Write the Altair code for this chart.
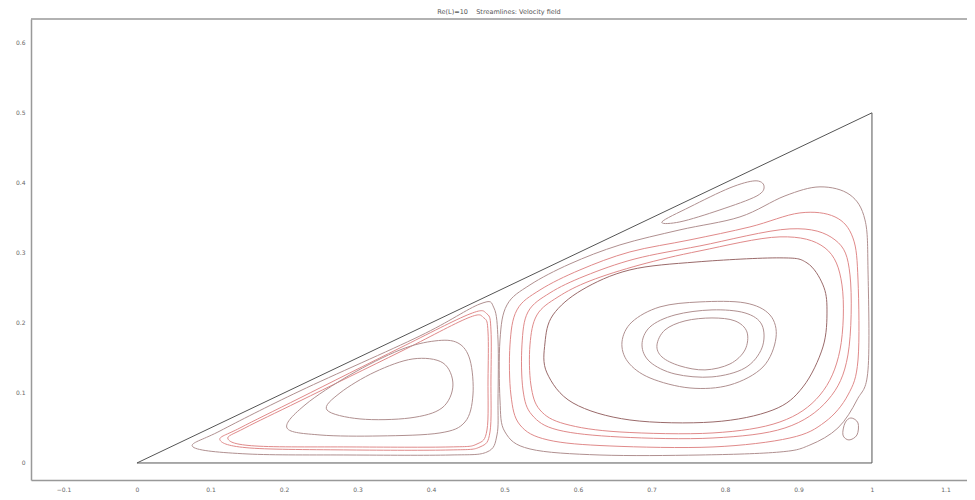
import altair as alt
import pandas as pd

# ---- axis ticks ----
x_ticks = [-0.1, 0, 0.1, 0.2, 0.3, 0.4, 0.5, 0.6, 0.7, 0.8, 0.9, 1, 1.1]
y_ticks = [0, 0.1, 0.2, 0.3, 0.4, 0.5, 0.6]
x_domain = [-0.1442, 1.1293]
y_domain = [-0.0243, 0.634]
title_text = "Re(L)=10\u00a0\u00a0\u00a0\u00a0Streamlines: Velocity field"

# ---- triangular cavity boundary ----
tri_x = [0, 1, 1, 0]
tri_y = [0, 0.5, 0, 0]

# ---- streamlines: left vortex ----
L1_x = [0.0762, 0.1497, 0.2898, 0.4259, 0.4762, 0.4898, 0.4912, 0.4912, 0.4857, 0.4667, 0.385, 0.2218, 0.1129]
L1_y = [0.0229, 0.0129, 0.0114, 0.0114, 0.0157, 0.04, 0.09, 0.1757, 0.2214, 0.2271, 0.1814, 0.1029, 0.0457]
L2a_x = [0.1129, 0.1537, 0.2898, 0.4259, 0.4667, 0.4803, 0.4816, 0.4816, 0.4762, 0.4531, 0.3578, 0.2218, 0.1401]
L2a_y = [0.0329, 0.0214, 0.0186, 0.0186, 0.0229, 0.0443, 0.1186, 0.19, 0.2129, 0.2129, 0.1643, 0.0929, 0.05]
L2b_x = [0.1238, 0.1605, 0.2898, 0.4259, 0.4626, 0.4762, 0.4776, 0.4776, 0.4721, 0.4503, 0.3578, 0.2218, 0.1469]
L2b_y = [0.0343, 0.0243, 0.0229, 0.0229, 0.0271, 0.0471, 0.1186, 0.1871, 0.2071, 0.2071, 0.1586, 0.0886, 0.05]
L3_x = [0.2041, 0.249, 0.3306, 0.4122, 0.4463, 0.4571, 0.4531, 0.4367, 0.4054, 0.3578, 0.2898, 0.2286]
L3_y = [0.05, 0.04, 0.0386, 0.0429, 0.0586, 0.0971, 0.1471, 0.1714, 0.1743, 0.1614, 0.1257, 0.0829]
L4_x = [0.2585, 0.3034, 0.3714, 0.415, 0.4299, 0.4163, 0.3755, 0.3238, 0.2762]
L4_y = [0.0757, 0.0629, 0.0643, 0.0786, 0.1114, 0.1429, 0.1486, 0.13, 0.1]

# ---- streamlines: right (main) vortex ----
C1_x = [0.7075, 0.7184, 0.7456, 0.7823, 0.8136, 0.8299, 0.8272, 0.8068, 0.7728, 0.7388, 0.7143]
C1_y = [0.1686, 0.19, 0.2029, 0.2071, 0.2029, 0.1871, 0.1614, 0.1414, 0.1329, 0.1386, 0.1514]
C2_x = [0.6871, 0.698, 0.732, 0.7823, 0.8272, 0.8503, 0.8503, 0.8272, 0.7823, 0.732, 0.698]
C2_y = [0.1686, 0.1943, 0.2114, 0.2186, 0.2143, 0.1971, 0.1643, 0.1357, 0.1229, 0.1271, 0.1443]
C3_x = [0.6599, 0.6735, 0.7116, 0.766, 0.8272, 0.8612, 0.8694, 0.8517, 0.8068, 0.7524, 0.698, 0.668]
C3_y = [0.1729, 0.2014, 0.2229, 0.23, 0.2286, 0.2114, 0.1786, 0.1371, 0.1114, 0.1071, 0.1214, 0.1443]
C4_x = [0.5551, 0.566, 0.6054, 0.6707, 0.7619, 0.8748, 0.9116, 0.9333, 0.9388, 0.9333, 0.9061, 0.8653, 0.7837, 0.6707, 0.5932, 0.5578]
C4_y = [0.1714, 0.2114, 0.2471, 0.2757, 0.2871, 0.2929, 0.2857, 0.2543, 0.2186, 0.1657, 0.1086, 0.0757, 0.0586, 0.0614, 0.0857, 0.1286]
C5_x = [0.536, 0.5347, 0.5442, 0.5728, 0.6163, 0.6844, 0.766, 0.8748, 0.9361, 0.9592, 0.9565, 0.9293, 0.8748, 0.7837, 0.6571, 0.5823, 0.5483]
C5_y = [0.1114, 0.1686, 0.2114, 0.2371, 0.26, 0.2829, 0.3029, 0.3229, 0.3071, 0.2543, 0.1614, 0.0971, 0.0586, 0.0429, 0.0443, 0.0557, 0.0757]
C6_x = [0.5252, 0.5238, 0.532, 0.5619, 0.6095, 0.6776, 0.766, 0.8884, 0.9497, 0.9701, 0.9673, 0.9401, 0.8816, 0.7837, 0.6571, 0.5728, 0.5374]
C6_y = [0.1043, 0.1686, 0.2157, 0.2429, 0.2671, 0.2914, 0.31, 0.3343, 0.3186, 0.2686, 0.1543, 0.09, 0.05, 0.0357, 0.0371, 0.0471, 0.0686]
C7_x = [0.5088, 0.5075, 0.517, 0.5483, 0.6027, 0.6707, 0.7524, 0.834, 0.902, 0.9497, 0.9741, 0.981, 0.981, 0.9673, 0.9361, 0.8884, 0.7837, 0.6435, 0.5592, 0.5211]
C7_y = [0.0971, 0.1686, 0.2186, 0.2471, 0.2757, 0.3014, 0.3186, 0.3371, 0.3571, 0.3514, 0.3214, 0.2614, 0.1471, 0.0971, 0.0586, 0.0357, 0.0229, 0.0243, 0.0329, 0.0543]
C8_x = [0.4939, 0.4939, 0.5034, 0.5347, 0.5891, 0.6571, 0.7388, 0.8204, 0.8816, 0.9293, 0.9701, 0.9905, 0.9946, 0.9946, 0.9796, 0.9537, 0.9156, 0.8748, 0.766, 0.6299, 0.5347, 0.5007]
C8_y = [0.09, 0.1757, 0.2257, 0.2543, 0.2843, 0.3114, 0.3329, 0.3514, 0.3814, 0.3943, 0.3829, 0.3471, 0.2757, 0.1329, 0.09, 0.05, 0.0257, 0.0157, 0.0114, 0.0114, 0.02, 0.0443]

# ---- small corner eddies ----
E1_x = [0.7143, 0.7524, 0.8068, 0.8408, 0.8531, 0.8435, 0.7932, 0.7388]
E1_y = [0.3443, 0.3657, 0.3929, 0.4029, 0.3957, 0.3814, 0.3614, 0.3443]
E2_x = [0.9714, 0.981, 0.9796, 0.9687, 0.9605, 0.9633]
E2_y = [0.0643, 0.0571, 0.04, 0.0329, 0.04, 0.0571]

GRAY = "#b09090"
PINK = "#e08a8a"
DARK = "#9a6a6a"
curves = {
    "L1": (L1_x, L1_y, GRAY),
    "L2a": (L2a_x, L2a_y, PINK),
    "L2b": (L2b_x, L2b_y, PINK),
    "L3": (L3_x, L3_y, GRAY),
    "L4": (L4_x, L4_y, GRAY),
    "C1": (C1_x, C1_y, GRAY),
    "C2": (C2_x, C2_y, GRAY),
    "C3": (C3_x, C3_y, GRAY),
    "C4": (C4_x, C4_y, DARK),
    "C5": (C5_x, C5_y, PINK),
    "C6": (C6_x, C6_y, PINK),
    "C7": (C7_x, C7_y, PINK),
    "C8": (C8_x, C8_y, GRAY),
    "E1": (E1_x, E1_y, GRAY),
    "E2": (E2_x, E2_y, GRAY),
}

rows = []
for name, (xs_, ys_, col) in curves.items():
    for i, (xv, yv) in enumerate(zip(xs_, ys_)):
        rows.append({"curve": name, "i": i, "x": xv, "y": yv, "col": col})
df = pd.DataFrame(rows)
tri = pd.DataFrame({"i": list(range(len(tri_x))), "x": tri_x, "y": tri_y})

xs = alt.Scale(domain=x_domain, nice=False, zero=False)
ys = alt.Scale(domain=y_domain, nice=False, zero=False)

axis_common = dict(format="~g", title=None, grid=False, tickSize=0, labelPadding=6,
                   labelFontSize=6, labelColor="#666", domainColor="#999",
                   domainWidth=1.5, labelFont="DejaVu Sans")
xaxis = alt.Axis(values=x_ticks, **axis_common)
yaxis = alt.Axis(values=y_ticks, **axis_common)

stream = alt.Chart(df).mark_line(interpolate="cardinal-closed", strokeWidth=1).encode(
    x=alt.X("x:Q", scale=xs, axis=xaxis),
    y=alt.Y("y:Q", scale=ys, axis=yaxis),
    detail="curve:N",
    order="i:Q",
    color=alt.Color("col:N", scale=None),
)

boundary = alt.Chart(tri).mark_line(color="#555", strokeWidth=1).encode(
    x=alt.X("x:Q", scale=xs), y=alt.Y("y:Q", scale=ys), order="i:Q"
)

top = alt.Chart(pd.DataFrame({"y": [y_domain[1]]})).mark_rule(color="#999", strokeWidth=1.5).encode(
    y=alt.Y("y:Q", scale=ys)
)

chart = alt.layer(boundary, stream, top).properties(
    width=936, height=461,
    autosize=alt.AutoSizeParams(type="none"),
    padding={"left": 23, "top": 11, "right": 0, "bottom": 12},
    title=alt.TitleParams(title_text, fontSize=6.5, color="#555", fontWeight="normal",
                          offset=3, font="DejaVu Sans"),
).configure_view(stroke=None)

chart.save("out.html", embed_options={"renderer": "svg", "actions": False})
